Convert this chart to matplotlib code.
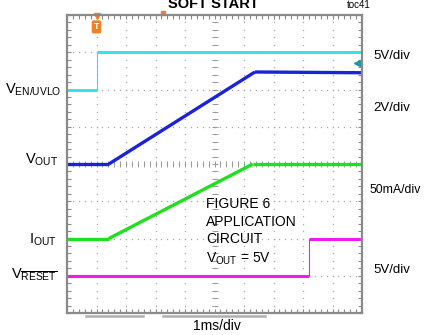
import numpy as np
import matplotlib.pyplot as plt

plt.rcParams['font.family'] = ['Liberation Sans', 'DejaVu Sans']
plt.rcParams['mathtext.fontset'] = 'custom'
plt.rcParams['mathtext.rm'] = 'Liberation Sans'
plt.rcParams['mathtext.it'] = 'Liberation Sans:italic'

# scope traces, in screen divisions (10 across, 8 high)
t_en = [0, 1.0, 1.0, 10]
v_en = [6, 6, 7, 7]
t_vout = [0, 1.42, 6.37, 10]
v_vout = [4, 4, 6.47, 6.45]
t_iout = [0, 1.42, 6.3, 10]
v_iout = [2, 2, 4.0, 4.0]
t_reset = [0, 8.2, 8.2, 10]
v_reset = [1, 1, 2, 2]

scales = ['5V/div', '2V/div', '50mA/div', '5V/div']
scale_y = [56, 108, 190, 270]

W, H = 425, 335


def px(x, y):
    return x / W, 1 - y / H


fig = plt.figure(figsize=(W / 100, H / 100), dpi=100)
fig.set_facecolor('white')
ax = fig.add_axes([67 / W, 1 - 313 / H, 295 / W, 298 / H])
ax.set_xlim(0, 10)
ax.set_ylim(0, 8)

grey = '#8a8a8a'
for s in ax.spines.values():
    s.set_color(grey)
    s.set_linewidth(1.6)
ax.set_xticks([])
ax.set_yticks([])
ax.set_xticks(np.arange(0, 10.01, 0.2), minor=True)
ax.set_yticks(np.arange(0, 8.01, 0.2), minor=True)
ax.tick_params(which='minor', direction='in', length=3, width=0.8, color=grey,
               top=True, right=True, labelbottom=False, labelleft=False)

# dotted graticule
xs = np.arange(0, 10.01, 0.2)
ys = np.arange(0, 8.01, 0.2)
for gy in range(1, 8):
    ax.plot(xs, np.full_like(xs, gy), ls='none', marker='s', ms=0.9, color='#a8a8a8', mew=0)
for gx in range(1, 10):
    ax.plot(np.full_like(ys, gx), ys, ls='none', marker='s', ms=0.9, color='#a8a8a8', mew=0)
# centre axes with ticks
ax.plot(xs, np.full_like(xs, 4), ls='none', marker='|', ms=3.8, mew=0.7, color='#9a9a9a')
ax.plot(np.full_like(ys, 5), ys, ls='none', marker='_', ms=3.8, mew=0.7, color='#9a9a9a')


def trace(t, v, color, lw):
    for i in range(len(t) - 1):
        w = 0.8 if t[i] == t[i + 1] else lw
        ax.plot(t[i:i + 2], v[i:i + 2], color=color, lw=w, solid_capstyle='butt')


trace(t_en, v_en, '#2fe0e6', 2.0)
trace(t_vout, v_vout, '#1c22d8', 2.4)
trace(t_iout, v_iout, '#1fe01f', 2.4)
trace(t_reset, v_reset, '#ee1cee', 2.2)

# trigger and reference markers
ax.plot([1.0], [7.97], marker='v', ms=4, color='#f08020', clip_on=False)
ax.text(1.0, 7.68, 'T', ha='center', va='center', fontsize=6.5, color='white',
        fontweight='bold',
        bbox=dict(boxstyle='round,pad=0.15', fc='#f08020', ec='#f08020'))
ax.plot([3.25], [8.05], marker='s', ms=2.5, color='#f08020', clip_on=False)
ax.plot([9.83], [6.71], marker='<', ms=4, color='#1a9a9a', clip_on=False)
ax.plot([9.83, 9.97], [6.71, 6.71], color='#1a9a9a', lw=0.8, clip_on=False)

# grey bars below frame
fig.add_artist(plt.Line2D([86 / W, 143 / W], [1 - 316 / H] * 2, color='#b0b0b0', lw=1.8))
fig.add_artist(plt.Line2D([163 / W, 265 / W], [1 - 316 / H] * 2, color='#b0b0b0', lw=1.8))

# texts
fig.text(*px(213, 8), 'SOFT START', ha='center', va='baseline', fontsize=10.5,
         fontweight='bold')
fig.text(*px(359, 5), 'toc41', ha='center', va='center', fontsize=7)
fig.text(*px(217, 326), '1ms/div', ha='center', va='center', fontsize=10)

left = [(61, 90, r'V$_{\mathrm{EN/UVLO}}$'),
        (58, 160, r'V$_{\mathrm{OUT}}$'),
        (57, 240, r'I$_{\mathrm{OUT}}$'),
        (57, 275, r'V$_{\overline{\mathrm{RESET}}}$')]
for x, y, s in left:
    fig.text(*px(x, y), s, ha='right', va='center', fontsize=10.5)

for s, y in zip(scales, scale_y):
    fig.text(*px(373, y), s, ha='left', va='center', fontsize=9.5)
# the widest scale label is kept inside the right edge
fig.texts[-2].set_fontsize(8.8)
fig.texts[-2].set_x(370 / W)

note = ['FIGURE 6', 'APPLICATION', 'CIRCUIT']
for i, s in enumerate(note):
    fig.text(*px(206, 204 + 17.5 * i), s, ha='left', va='center', fontsize=10)
fig.text(*px(206, 259), r'V$_{\mathrm{OUT}}$ = 5V', ha='left', va='center', fontsize=10)

fig.savefig('out.png', dpi=100, facecolor='white')
